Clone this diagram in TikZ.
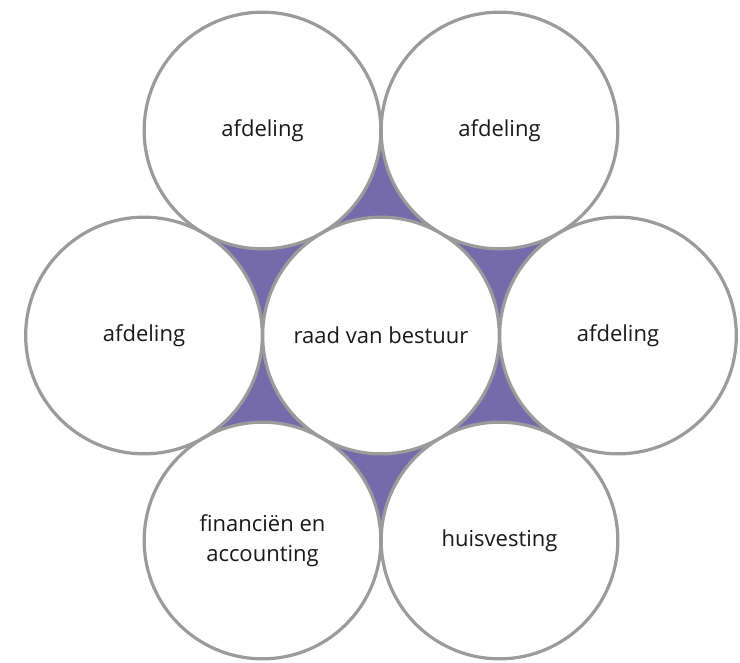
\documentclass[tikz,border=0pt]{standalone}
\usepackage{fontspec}
\setmainfont{Open Sans}
\definecolor{ringgray}{RGB}{155,155,155}
\definecolor{gappurple}{RGB}{117,106,170}
\tikzset{
  ring/.style={circle,draw=ringgray,line width=2.4pt,minimum size=177.5pt,inner sep=0pt,align=center,font=\fontsize{16.5}{22.5}\selectfont,text=black!90},
  ringfill/.style={circle,fill=white,minimum size=177.5pt,inner sep=0pt}
}
\begin{document}
\begin{tikzpicture}[x=0.75pt,y=-0.75pt]
\useasboundingbox (0,0) rectangle (740,662);
\coordinate (c) at (381,335.5);
\coordinate (tl) at (262.5,130.5);
\coordinate (tr) at (499.5,130.5);
\coordinate (l) at (144,335.5);
\coordinate (r) at (618,335.5);
\coordinate (bl) at (262.5,540.5);
\coordinate (br) at (499.5,540.5);
\fill[gappurple] (tl) -- (tr) -- (r) -- (br) -- (bl) -- (l) -- cycle;
\foreach \p in {c,tl,tr,l,r,bl,br}
  \node[ringfill] at (\p) {};
\node[ring] (board) at (c) {raad van bestuur};
\node[ring] (depttl) at (tl) {afdeling};
\node[ring] (depttr) at (tr) {afdeling};
\node[ring] (deptl) at (l) {afdeling};
\node[ring] (deptr) at (r) {afdeling};
\node[ring] (finance) at (bl) {financiën en\\accounting};
\node[ring] (housing) at (br) {huisvesting};
\end{tikzpicture}
\end{document}
